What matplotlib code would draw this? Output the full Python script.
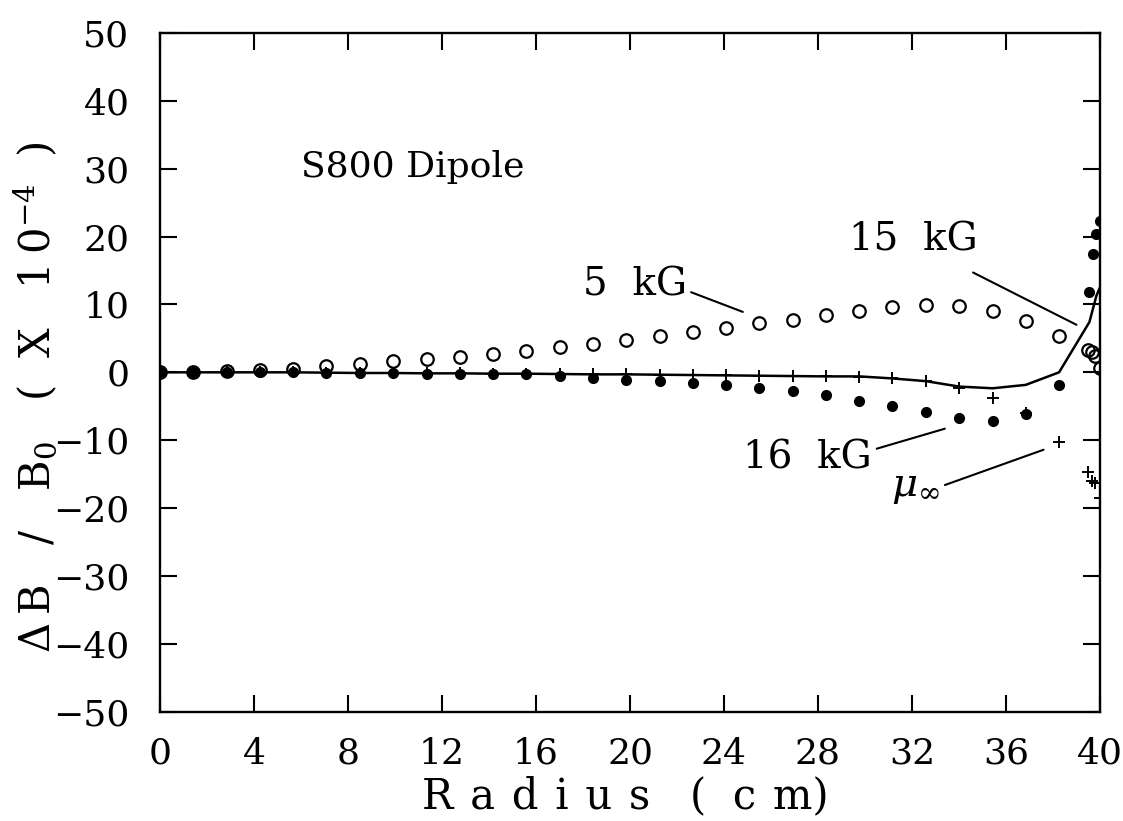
import matplotlib
matplotlib.use("Agg")
import matplotlib.pyplot as plt

plt.rcParams['font.family'] = ['DejaVu Serif']
plt.rcParams['mathtext.fontset'] = 'dejavuserif'

# ---- data ----
radius = [0.00, 1.42, 2.83, 4.25, 5.67, 7.08, 8.50, 9.92, 11.34, 12.75,
          14.17, 15.59, 17.00, 18.42, 19.84, 21.26, 22.67, 24.09, 25.51, 26.92,
          28.34, 29.76, 31.17, 32.59, 34.01, 35.43, 36.84, 38.26]

# 5 kG (open circles)
circ_r = radius + [39.50, 39.65, 39.80, 40.00]
circ_5kG = [0.0, 0.05, 0.15, 0.3, 0.5, 0.9, 1.2, 1.6, 1.9, 2.3,
            2.7, 3.2, 3.7, 4.2, 4.7, 5.4, 6.0, 6.5, 7.2, 7.7,
            8.4, 9.1, 9.6, 9.9, 9.8, 9.1, 7.6, 5.4,
            3.3, 3.0, 2.4, 0.7]

# 16 kG (filled dots)
dot_r = radius + [39.55, 39.70, 39.85, 40.00]
dot_16kG = [0.0, 0.0, 0.0, 0.0, 0.0, -0.05, -0.1, -0.15, -0.2, -0.2,
            -0.25, -0.3, -0.5, -0.85, -1.1, -1.3, -1.6, -1.9, -2.3, -2.7,
            -3.4, -4.2, -5.0, -5.9, -6.7, -7.2, -6.1, -1.8,
            11.9, 17.5, 20.3, 22.3]

# mu_infinity (plus markers)
plus_r = radius + [39.50, 39.65, 39.80, 40.00]
plus_mu = [0.0, 0.0, 0.0, 0.0, 0.0, -0.05, -0.1, -0.1, -0.15, -0.15,
           -0.2, -0.2, -0.25, -0.3, -0.3, -0.35, -0.4, -0.45, -0.5, -0.55,
           -0.6, -0.7, -0.85, -1.3, -2.3, -3.8, -6.0, -10.2,
           -14.7, -16.0, -16.3, -18.5]

# 15 kG (solid line)
line_r = radius + [39.55, 39.85, 40.00]
line_15kG = [0.0, 0.0, 0.0, 0.0, 0.0, -0.05, -0.1, -0.1, -0.15, -0.15,
             -0.2, -0.2, -0.25, -0.3, -0.3, -0.35, -0.4, -0.45, -0.5, -0.55,
             -0.6, -0.6, -0.9, -1.3, -2.1, -2.35, -1.85, 0.0,
             7.4, 11.3, 12.5]

x_ticks = [0, 4, 8, 12, 16, 20, 24, 28, 32, 36, 40]
y_ticks = [-50, -40, -30, -20, -10, 0, 10, 20, 30, 40, 50]


def spaced(s, gap='\u2009\u2009'):
    """Widen letter spacing with thin spaces (old plotter look)."""
    return gap.join(s)


# ---- figure ----
fig = plt.figure(figsize=(11.23, 8.21), dpi=100)
ax = fig.add_axes([0.1425, 0.133, 0.837, 0.827])

ax.plot(line_r, line_15kG, color='black', lw=1.8, zorder=2)
ax.plot(plus_r, plus_mu, ls='none', marker='+', ms=9, mew=1.4,
        color='black', zorder=3)
ax.plot(dot_r, dot_16kG, ls='none', marker='o', ms=7, mfc='black',
        mec='black', zorder=4)
ax.plot(circ_r, circ_5kG, ls='none', marker='o', ms=9, mfc='none',
        mec='black', mew=1.6, zorder=5)

ax.set_xlim(0, 40)
ax.set_ylim(-50, 50)
ax.set_xticks(x_ticks)
ax.set_yticks(y_ticks)
ax.set_yticklabels([str(v).replace('-', '\u2212') for v in y_ticks])
ax.tick_params(direction='in', length=12, width=1.5, labelsize=26,
               top=True, right=True)
ax.tick_params(axis='x', pad=18)
ax.tick_params(axis='y', pad=22)
for s in ax.spines.values():
    s.set_linewidth(1.7)

ax.set_xlabel(spaced('Radius') + '   (  ' + spaced('cm') + ')',
              fontsize=30, va='center')
ax.xaxis.set_label_coords(0.495, -0.124)
ax.set_ylabel('\u0394\u2009B   /   B$_{\\mathrm{0}}$   (  X   1\u20090$^{-4}$  )',
              fontsize=30, va='center', ha='center')
ax.yaxis.set_label_coords(-0.133, 0.464)

# ---- annotations ----
ax.text(6.0, 30.3, 'S800 Dipole', fontsize=26, ha='left', va='center')
ax.text(18.0, 12.8, '5  kG', fontsize=28, ha='left', va='center')
ax.text(29.3, 19.5, '15  kG', fontsize=28, ha='left', va='center')
ax.text(24.8, -12.6, '16  kG', fontsize=28, ha='left', va='center')
ax.text(31.1, -17.0, r'$\mu_{\infty}$', fontsize=29, ha='left', va='center')

lkw = dict(arrowprops=dict(arrowstyle='-', color='black', lw=1.5,
                           shrinkA=0, shrinkB=0))
ax.annotate('', xy=(24.8, 8.9), xytext=(22.6, 11.8), **lkw)
ax.annotate('', xy=(39.0, 7.0), xytext=(34.6, 14.7), **lkw)
ax.annotate('', xy=(33.4, -8.3), xytext=(30.5, -11.25), **lkw)
ax.annotate('', xy=(37.6, -11.4), xytext=(33.4, -16.6), **lkw)

fig.savefig('out.png', dpi=100)
